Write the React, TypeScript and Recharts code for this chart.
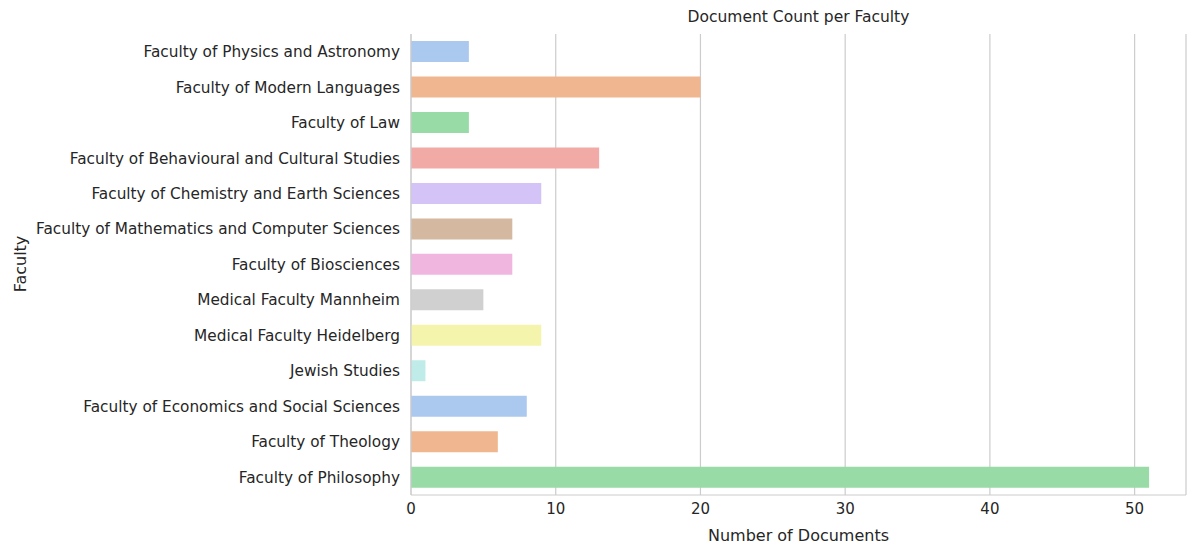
import React from 'react';
import { BarChart, Bar, XAxis, YAxis, CartesianGrid, Cell } from 'recharts';

const faculties = [
  'Faculty of Physics and Astronomy', 'Faculty of Modern Languages', 'Faculty of Law',
  'Faculty of Behavioural and Cultural Studies', 'Faculty of Chemistry and Earth Sciences',
  'Faculty of Mathematics and Computer Sciences', 'Faculty of Biosciences', 'Medical Faculty Mannheim',
  'Medical Faculty Heidelberg', 'Jewish Studies', 'Faculty of Economics and Social Sciences',
  'Faculty of Theology', 'Faculty of Philosophy',
];
const counts = [4, 20, 4, 13, 9, 7, 7, 5, 9, 1, 8, 6, 51];
const colors = ['#abc9ef', '#f0b68f', '#98dba6', '#f2aaa7', '#d4c3f7', '#d4b9a0', '#f0b6e0', '#d0d0d0', '#f4f4ad', '#bfece9', '#abc9ef', '#f0b68f', '#98dba6'];
const xTicks = [0, 10, 20, 30, 40, 50];

const data = faculties.map((f, i) => ({ name: f, value: counts[i] }));
const font = 'DejaVu Sans, sans-serif';

export default function App() {
  return (
    <div style={{ position: 'absolute', left: 0, top: 0, fontFamily: font }}>
      <div style={{ position: 'absolute', top: 8, left: 411, width: 775, textAlign: 'center', fontSize: 15.5, color: '#262626' }}>Document Count per Faculty</div>
      <div style={{ position: 'absolute', left: 411, top: 526, width: 775, textAlign: 'center', fontSize: 16, color: '#262626' }}>Number of Documents</div>
      <div style={{ position: 'absolute', left: 20, top: 264, transform: 'translate(-50%,-50%) rotate(-90deg)', fontSize: 16, color: '#262626' }}>Faculty</div>
      <BarChart width={1196} height={556} data={data} layout="vertical"
        margin={{ top: 34, right: 10, bottom: 31, left: 0 }} barCategoryGap="20%">
        <CartesianGrid horizontal={false} stroke="#cccccc" strokeWidth={1.2} />
        <XAxis type="number" domain={[0, 53.55]} ticks={xTicks} axisLine={{ stroke: '#cccccc' }} tickLine={false}
          tick={{ fill: '#262626', fontSize: 15, fontFamily: font }} height={30} />
        <XAxis xAxisId="top" orientation="top" type="number" domain={[0, 53.55]} tick={false} tickLine={false} axisLine={{ stroke: '#cccccc' }} height={0} />
        <YAxis type="category" dataKey="name" width={411} axisLine={{ stroke: '#cccccc' }} tickLine={false}
          tick={{ fill: '#262626', fontSize: 15.3, fontFamily: font }} interval={0} tickMargin={5} />
        <YAxis yAxisId="r" orientation="right" type="category" dataKey="name" width={0} tick={false} tickLine={false} axisLine={{ stroke: '#cccccc' }} />
        <Bar dataKey="value" isAnimationActive={false}>
          {data.map((d, i) => <Cell key={i} fill={colors[i]} />)}
        </Bar>
      </BarChart>
    </div>
  );
}
